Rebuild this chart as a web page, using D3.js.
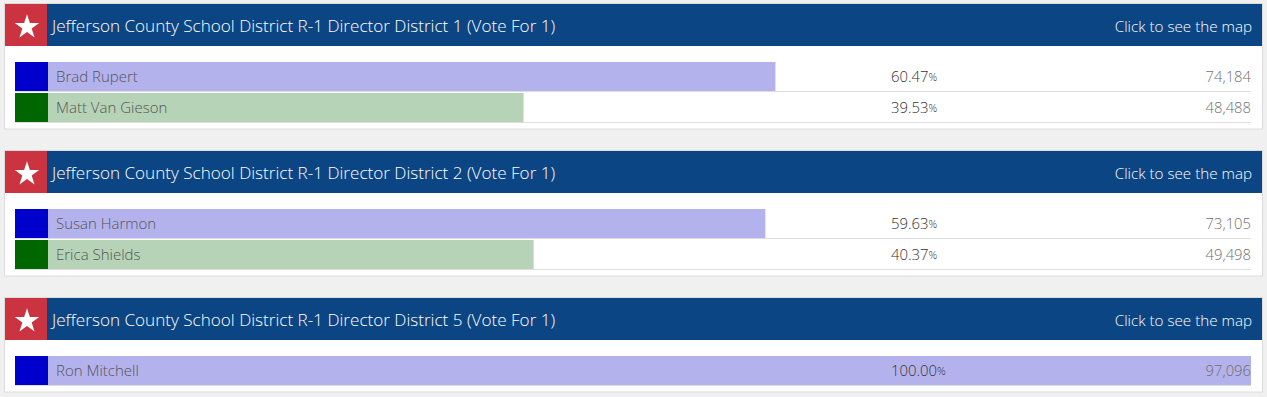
<!DOCTYPE html>
<html>
<head>
<meta charset="utf-8">
<script src="https://cdn.jsdelivr.net/npm/d3@7"></script>
<style>
  body { margin: 0; background: #f0f0f1; }
  svg { display: block; font-family: "Open Sans", sans-serif; }
</style>
</head>
<body>
<svg id="canvas" width="1267" height="397"></svg>
<script>
const contests = [
  "Jefferson County School District R-1 Director District 1 (Vote For 1)",
  "Jefferson County School District R-1 Director District 2 (Vote For 1)",
  "Jefferson County School District R-1 Director District 5 (Vote For 1)",
]
const candidates = [
  ["Brad Rupert", "Matt Van Gieson"],
  ["Susan Harmon", "Erica Shields"],
  ["Ron Mitchell"],
]
const percents = [
  [60.47, 39.53],
  [59.63, 40.37],
  [100.0],
]
const votes = [
  [74184, 48488],
  [73105, 49498],
  [97096],
]
const parties = [
  ["blue", "green"],
  ["blue", "green"],
  ["blue"],
]

const dark = { blue: "#0000cc", green: "#006600" }
const light = { blue: "#b3b2ed", green: "#b6d3b7" }

const canvas = d3.select("#canvas")
const x = d3.scaleLinear().domain([0, 100]).range([48, 1251])
const panelY = d3.scaleLinear().domain([0, 1]).range([4, 151])
const fmt = d3.format(",")

contests.forEach((title, i) => {
  const rows = candidates[i].map((name, j) => ({
    name,
    pct: percents[i][j],
    votes: votes[i][j],
    party: parties[i][j],
  }))
  const g = canvas.append("g").attr("transform", `translate(0,${panelY(i)})`)
  const h = 42 + 16 + rows.length * 31 + 5.5

  g.append("rect")
    .attr("x", 4.5).attr("y", -0.5)
    .attr("width", 1258).attr("height", h)
    .attr("fill", "#fff").attr("stroke", "#dcdcdc")
  g.append("rect").attr("x", 5).attr("y", 0).attr("width", 1257).attr("height", 42).attr("fill", "#0c4583")
  g.append("rect").attr("x", 5).attr("y", 0).attr("width", 42).attr("height", 42).attr("fill", "#cc3340")
  g.append("path")
    .attr("d", d3.symbol(d3.symbolStar).size(185)())
    .attr("transform", "translate(27,23)")
    .attr("fill", "#fff")
  g.append("text")
    .attr("x", 52).attr("y", 23.5)
    .attr("dominant-baseline", "middle")
    .attr("fill", "#fff").attr("font-size", 17.1).attr("font-weight", 300)
    .text(title)
  g.append("text")
    .attr("x", 1252).attr("y", 23.5)
    .attr("text-anchor", "end")
    .attr("dominant-baseline", "middle")
    .attr("fill", "#fff").attr("font-size", 15.2).attr("font-weight", 300)
    .text("Click to see the map")

  const row = g.selectAll("g.row")
    .data(rows)
    .enter()
    .append("g")
    .attr("class", "row")
    .attr("transform", (d, j) => `translate(0,${58 + j * 31})`)

  row.append("line")
    .attr("x1", 15).attr("x2", 1251)
    .attr("y1", 29.5).attr("y2", 29.5)
    .attr("stroke", "#dedede")
  row.append("rect")
    .attr("x", x(0)).attr("y", 0)
    .attr("width", (d) => x(d.pct) - x(0)).attr("height", 29)
    .attr("fill", (d) => light[d.party])
  row.append("rect")
    .attr("x", 15).attr("y", 0)
    .attr("width", 33).attr("height", 29)
    .attr("fill", (d) => dark[d.party])
  row.append("text")
    .attr("x", 56).attr("y", 16)
    .attr("dominant-baseline", "middle")
    .attr("fill", "#555").attr("font-size", 15).attr("font-weight", 300)
    .text((d) => d.name)

  const pct = row.append("text")
    .attr("x", 891).attr("y", 16)
    .attr("dominant-baseline", "middle")
    .attr("fill", "#333").attr("font-size", 14.9).attr("font-weight", 300)
  pct.append("tspan").text((d) => d.pct.toFixed(2))
  pct.append("tspan").attr("font-size", 10.8).text("%")

  row.append("text")
    .attr("x", 1251).attr("y", 16)
    .attr("text-anchor", "end")
    .attr("dominant-baseline", "middle")
    .attr("fill", "#6f6f6f").attr("font-size", 14.8).attr("font-weight", 300)
    .text((d) => fmt(d.votes))
})
</script>
</body>
</html>
